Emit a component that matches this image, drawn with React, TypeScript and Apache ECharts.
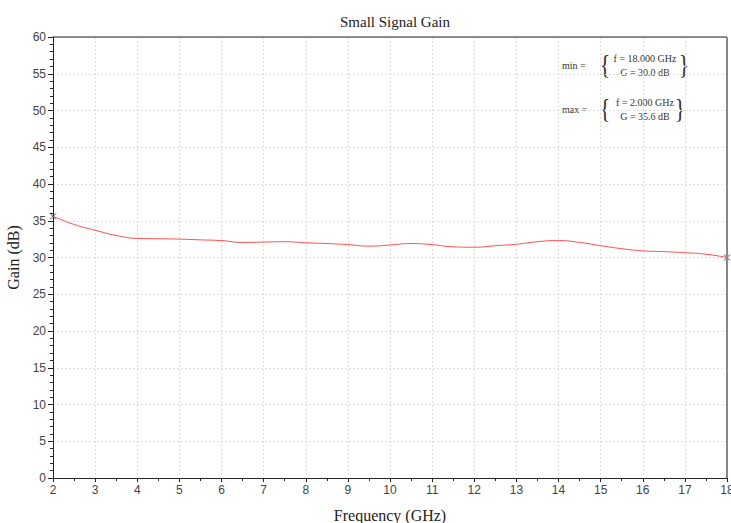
import React, { useEffect, useRef } from "react";
import * as echarts from "echarts";

const freqGHz = [2, 2.5, 3, 3.5, 4, 4.5, 5, 5.5, 6, 6.5, 7, 7.5, 8, 8.5, 9, 9.5, 10, 10.5, 11, 11.5, 12, 12.5, 13, 13.5, 14, 14.5, 15, 15.5, 16, 16.5, 17, 17.5, 18];
const gainDb = [35.6, 34.5, 33.7, 33.0, 32.6, 32.55, 32.5, 32.4, 32.3, 32.05, 32.1, 32.15, 32.0, 31.9, 31.75, 31.55, 31.7, 31.9, 31.75, 31.45, 31.4, 31.6, 31.8, 32.15, 32.3, 32.05, 31.6, 31.2, 30.9, 30.8, 30.65, 30.45, 30.0];

const titleText = "Small Signal Gain";
const xName = "Frequency (GHz)";
const yName = "Gain (dB)";

export default function App() {
  const ref = useRef<HTMLDivElement>(null);
  useEffect(() => {
    if (!ref.current) return;
    const chart = echarts.init(ref.current, null, { renderer: "svg" });
    const data = freqGHz.map((f, i) => [f, gainDb[i]]);
    let minI = 0, maxI = 0;
    gainDb.forEach((g, i) => {
      if (g < gainDb[minI]) minI = i;
      if (g > gainDb[maxI]) maxI = i;
    });
    const serif = "'Liberation Serif', 'DejaVu Serif', serif";
    const sans = "'Liberation Sans', Arial, sans-serif";
    const small = { fontFamily: serif, fontSize: 10, fill: "#333" };
    const brace = (x: number, y: number, t: string) => ({
      type: "text", x, y, scaleY: 1.2,
      style: { text: t, fontFamily: serif, fontSize: 22, fill: "#333", textAlign: "center", textVerticalAlign: "middle" },
    });
    const block = (label: string, y: number, f: number, g: number, rb: number) => [
      { type: "text", x: 562, y, style: { ...small, text: label, textVerticalAlign: "middle" } },
      brace(605, y, "{"),
      { type: "text", x: 645, y: y - 7, style: { ...small, text: `f = ${f.toFixed(3)} GHz`, textAlign: "center", textVerticalAlign: "middle" } },
      { type: "text", x: 645, y: y + 7, style: { ...small, text: `G = ${g.toFixed(1)} dB`, textAlign: "center", textVerticalAlign: "middle" } },
      brace(rb, y, "}"),
    ];
    chart.setOption({
      animation: false,
      backgroundColor: "#fff",
      title: {
        text: titleText, left: 390, top: 9, textAlign: "center",
        textStyle: { fontFamily: serif, fontSize: 15, fontWeight: "normal", color: "#222" },
      },
      grid: { left: 53, right: 4, top: 37, bottom: 45, containLabel: false, outerBoundsMode: "none" },
      xAxis: {
        type: "value", min: 2, max: 18, interval: 1,
        name: xName, nameLocation: "middle", nameGap: 29,
        nameTextStyle: { fontFamily: serif, fontSize: 16, color: "#222" },
        axisLine: { lineStyle: { color: "#222", width: 1 } },
        axisTick: { show: true, length: 4, lineStyle: { color: "#222" } },
        minorTick: { show: true, splitNumber: 2, length: 3, lineStyle: { color: "#222" } },
        axisLabel: { fontFamily: sans, fontSize: 12, color: "#444", margin: 6 },
        splitLine: { show: true, lineStyle: { color: "#ddd", type: [2, 2] } },
      },
      yAxis: {
        type: "value", min: 0, max: 60, interval: 5,
        name: yName, nameLocation: "middle", nameGap: 20, nameRotate: 90,
        nameTextStyle: { fontFamily: serif, fontSize: 16, color: "#222" },
        axisLine: { show: true, lineStyle: { color: "#222", width: 1 } },
        axisTick: { show: true, length: 5, lineStyle: { color: "#222" } },
        minorTick: { show: true, splitNumber: 5, length: 3, lineStyle: { color: "#222" } },
        axisLabel: { fontFamily: sans, fontSize: 12, color: "#444", margin: 7 },
        splitLine: { show: true, lineStyle: { color: "#ddd", type: [2, 2] } },
      },
      series: [
        {
          type: "line", data, smooth: true, symbol: "none",
          lineStyle: { color: "#ff4d4d", width: 1 },
        },
        {
          type: "scatter", data: [data[minI], data[maxI]],
          symbol: "path://M0,0L10,10M10,0L0,10", symbolSize: 6,
          itemStyle: { color: "none", borderColor: "#222", borderWidth: 1 },
        },
      ],
      graphic: [
        { type: "line", z: 100, shape: { x1: 53, y1: 37, x2: 727, y2: 37 }, style: { stroke: "#222", lineWidth: 1 } },
        { type: "line", z: 100, shape: { x1: 727, y1: 37, x2: 727, y2: 478 }, style: { stroke: "#888", lineWidth: 2 } },
        ...block("min =", 65, freqGHz[minI], gainDb[minI], 684),
        ...block("max =", 109, freqGHz[maxI], gainDb[maxI], 680),
      ],
    });
    return () => chart.dispose();
  }, []);
  return <div ref={ref} style={{ position: "fixed", left: 0, top: 0, width: 731, height: 523 }} />;
}
